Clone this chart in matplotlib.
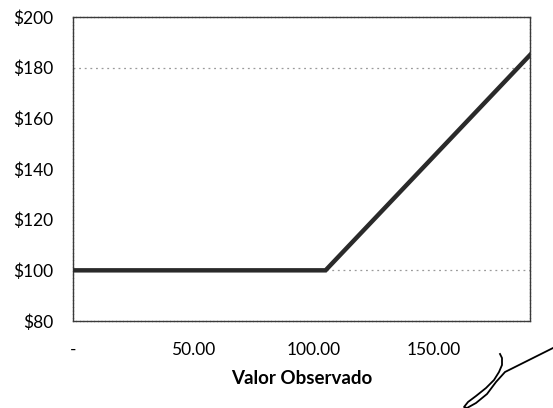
import numpy as np
import matplotlib.pyplot as plt
from matplotlib.lines import Line2D
from matplotlib.ticker import FuncFormatter

# Payoff curve: flat at 100 until the strike, then rises one-for-one
valor_observado = [0, 105, 190]
pago = [100, 100, 185]

y_ticks = [80, 100, 120, 140, 160, 180, 200]
x_ticks = [0, 50, 100, 150]
grid_levels = [100, 180]

plt.rcParams['font.family'] = ['Lato', 'DejaVu Sans']

fig = plt.figure(figsize=(5.53, 4.08), dpi=100)
ax = fig.add_axes([73 / 553, 1 - 321 / 408, (530 - 73) / 553, (321 - 17) / 408])

# Dotted horizontal gridlines
for level in grid_levels:
    ax.axhline(level, color='#9a9a9a', linewidth=0.9, linestyle=(0, (1.5, 3)), zorder=1)

ax.plot(valor_observado, pago, color='#2a2a2a', linewidth=3.2, solid_joinstyle='miter', zorder=3)

ax.set_xlim(0, 190)
ax.set_ylim(80, 200)
ax.set_yticks(y_ticks)
ax.set_xticks(x_ticks)
ax.yaxis.set_major_formatter(FuncFormatter(lambda v, p: f'${v:.0f}'))
ax.xaxis.set_major_formatter(FuncFormatter(lambda v, p: '-' if v == 0 else f'{v:.2f}'))
ax.tick_params(axis='both', length=0, labelsize=12.5, colors='black')
ax.tick_params(axis='y', pad=14)
ax.tick_params(axis='x', pad=15)
ax.set_xlabel('Valor Observado', fontsize=13.5, fontweight='bold', labelpad=9, color='black')

for side in ax.spines.values():
    side.set_color('#3a3a3a')
    side.set_linewidth(1.0)
    side.set_linestyle((0, (2, 0.6)))

# Handwritten initial in the lower right corner
sig_x = [500, 502, 502, 499, 494, 486, 476, 468, 464, 467, 476, 487, 496, 505, 517, 533, 553]
sig_y = [354, 358, 365, 372, 380, 388, 396, 402, 407, 408, 403, 394, 382, 372, 366, 358, 348]
fig.add_artist(Line2D([x / 553 for x in sig_x], [1 - y / 408 for y in sig_y],
                      transform=fig.transFigure, color='black', linewidth=1.3))

fig.savefig('out.png', dpi=100)
